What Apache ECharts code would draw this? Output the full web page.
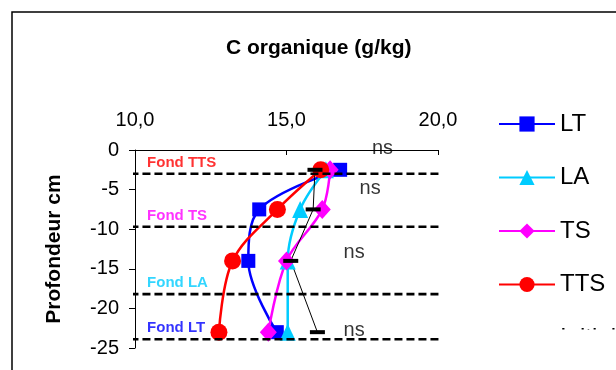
<!DOCTYPE html>
<html><head><meta charset="utf-8">
<script src="https://cdn.jsdelivr.net/npm/echarts@6/dist/echarts.min.js"></script>
<style>html,body{margin:0;padding:0;background:#fff}#c{width:616px;height:370px}</style>
</head><body><div id="c"></div>
<script>
// ---- data ----
const depths = [-2.5, -7.5, -14, -23];
const LT = [16.77, 14.1, 13.74, 14.68];
const LA = [16.3, 15.45, 15.04, 15.04];
const TS = [16.44, 16.18, 15.0, 14.4];
const TTS = [16.13, 14.7, 13.22, 12.77];
const Initial = [15.94, 15.88, 15.14, 16.02];
const seriesNames = ['LT', 'LA', 'TS', 'TTS', 'Initial'];
const xTicks = [10, 15, 20];
const xTickLabels = ['10,0', '15,0', '20,0'];
const yTicks = [0, -5, -10, -15, -20, -25];
const fondNames = ['Fond TTS', 'Fond TS', 'Fond LA', 'Fond LT'];
const fondDepths = [-3, -9.7, -18.2, -23.9];
const nsTexts = ['ns', 'ns', 'ns', 'ns'];
const nsX = [18.17, 17.76, 17.23, 17.23];
const nsY = [0.25, -4.8, -12.9, -22.85];

// ---- layout / style constants ----
const FONT = "'Liberation Sans', Arial, sans-serif";
const fondExtent = [9.85, 20.75];
const fondLabelX = 10.4;
const fondLabelRise = 1.38;
const colors = { LT: '#0000ff', LA: '#00ccff', TS: '#ff00ff', TTS: '#ff0000', Initial: '#000000' };
const fondColors = ['#ff0000', '#ff00ff', '#00ccff', '#0000ff'];
const symbols = {
  LT: ['rect', 14], LA: ['triangle', [16, 17]], TS: ['diamond', [17, 19]],
  TTS: ['circle', 17], Initial: ['rect', [15, 4]]
};
const dataBy = { LT, LA, TS, TTS, Initial };

const pts = arr => arr.map((v, i) => [v, depths[i]]);

const series = seriesNames.map(n => ({
  name: n, type: 'line',
  data: pts(dataBy[n]),
  smooth: n === 'Initial' ? false : 0.35,
  symbol: symbols[n][0], symbolSize: symbols[n][1],
  showAllSymbol: true,
  itemStyle: { color: colors[n], opacity: 1 },
  lineStyle: { color: colors[n], width: n === 'Initial' ? 1 : 2.5 },
  clip: false, silent: true, z: 3
}));

fondDepths.forEach((d, i) => {
  series.push({
    type: 'line', data: [[fondExtent[0], d], [fondExtent[1], d]],
    symbol: 'none', clip: false, silent: true, z: 5,
    lineStyle: { color: '#000', width: 2.6, type: [8, 4] }
  });
  series.push({
    type: 'scatter', data: [[fondLabelX, d + fondLabelRise]],
    symbolSize: 0, clip: false, silent: true, z: 6,
    label: { show: true, position: 'right', distance: 0, formatter: fondNames[i],
      color: fondColors[i], fontSize: 15, fontWeight: 'bold', fontFamily: FONT }
  });
});

series.push({
  type: 'scatter', data: nsX.map((x, i) => [x, nsY[i]]),
  symbolSize: 0, clip: false, silent: true, z: 6,
  label: { show: true, position: 'inside', formatter: p => nsTexts[p.dataIndex],
    color: '#000', fontSize: 20, fontFamily: FONT }
});

const chart = echarts.init(document.getElementById('c'), null, { renderer: 'canvas' });
chart.setOption({
  animation: false,
  backgroundColor: '#fff',
  title: {
    text: 'C organique (g/kg)', left: 226, top: 38, padding: 0,
    textStyle: { fontSize: 21, fontWeight: 'bold', color: '#000', fontFamily: FONT }
  },
  grid: { left: 135, top: 150, width: 303, height: 198, outerBoundsMode: 'none', containLabel: false },
  xAxis: {
    type: 'value', position: 'top', min: 10, max: 20, interval: 5,
    axisLine: { show: true, lineStyle: { color: '#000', width: 1 } },
    axisTick: { show: true, inside: true, length: 5, lineStyle: { color: '#000' } },
    axisLabel: { fontSize: 20, color: '#000', margin: 20, fontFamily: FONT,
      formatter: v => xTickLabels[xTicks.indexOf(v)] },
    splitLine: { show: false }
  },
  yAxis: {
    type: 'value', min: -25, max: 0, interval: 5,
    name: 'Profondeur cm', nameLocation: 'middle', nameGap: 70, nameRotate: 90,
    nameTextStyle: { fontSize: 21, fontWeight: 'bold', color: '#000', fontFamily: FONT },
    axisLine: { show: true, lineStyle: { color: '#000', width: 1 } },
    axisTick: { show: true, inside: false, length: 6, lineStyle: { color: '#000' } },
    axisLabel: { fontSize: 20, color: '#000', margin: 16, fontFamily: FONT,
      formatter: v => String(yTicks[yTicks.indexOf(v)]) },
    splitLine: { show: false }
  },
  legend: {
    orient: 'vertical', left: 498, top: 112, padding: 0,
    itemWidth: 56, itemHeight: 19, itemGap: 29.5, selectedMode: false,
    data: seriesNames,
    textStyle: { fontSize: 24, color: '#000', fontFamily: FONT }
  },
  graphic: [
    { type: 'rect', z: 100, shape: { x: 470, y: 329.5, width: 146, height: 41 },
      style: { fill: '#fff' }, silent: true },
    { type: 'rect', z: 101, shape: { x: 12, y: 12, width: 800, height: 600 },
      style: { fill: 'none', stroke: '#000', lineWidth: 1.5 }, silent: true }
  ],
  series
});
</script></body></html>
